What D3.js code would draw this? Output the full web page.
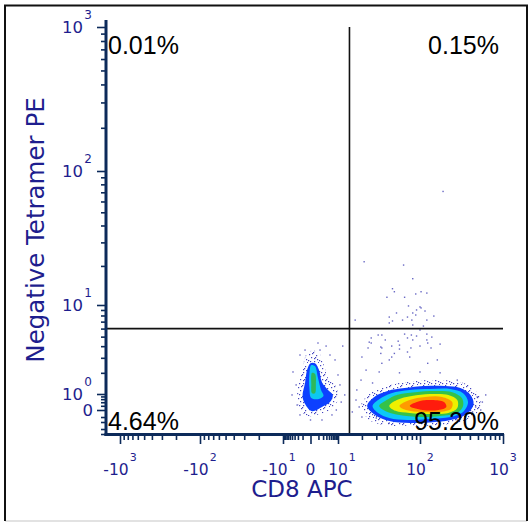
<!DOCTYPE html>
<html><head><meta charset="utf-8">
<script src="https://cdn.jsdelivr.net/npm/d3@7/dist/d3.min.js"></script>
<style>html,body{margin:0;padding:0;background:#fff;overflow:hidden}</style>
</head><body>
<svg id="c" width="530" height="523"></svg>
<script>
// ---------- data ----------
const xMajorTicks = [-1000, -100, -10, 0, 10, 100, 1000];
const xMajorLabels = [["-10","3"],["-10","2"],["-10","1"],["0",""],["10","1"],["10","2"],["10","3"]];
const yMajorTicks = [0, 1, 10, 100, 1000];
const yMajorLabels = [["0",""],["10","0"],["10","1"],["10","2"],["10","3"]];
const xTitle = "CD8 APC";
const yTitle = "Negative Tetramer PE";
const gateX = 14;
const gateY = 6;
const quadrantPercents = ["0.01%", "0.15%", "4.64%", "95.20%"]; // UL, UR, LL, LR

// density contour levels (outer -> inner), main CD8+ population
const mainContours = [
 [[23.2,0.19],[28.3,0.76],[41,1.12],[65.6,1.24],[115,1.33],[201,1.33],[307,1.24],[407,0.92],[443,0.3],[380,-0.19],[267,-0.68],[152,-1.0],[75.5,-1.12],[43,-0.89],[29,-0.33]],
 [[27,0.19],[32.5,0.6],[45.5,1.03],[75.5,1.16],[132,1.2],[232,1.2],[331,1.03],[380,0.41],[331,-0.12],[232,-0.5],[132,-0.68],[71,-0.78],[43,-0.59],[31.6,-0.19]],
 [[32.5,0.19],[40,0.54],[53,0.92],[87,1.07],[152,1.12],[245,1.07],[320,0.68],[331,0.19],[282,-0.19],[175,-0.41],[100,-0.5],[57,-0.33],[41,-0.12]],
 [[43,0.19],[53,0.54],[80,0.83],[132,0.99],[220,0.92],[282,0.54],[282,0.09],[220,-0.19],[132,-0.26],[75.5,-0.19],[51,-0.05]],
 [[57,0.19],[75.5,0.54],[115,0.76],[185,0.76],[245,0.41],[238,0.05],[175,-0.12],[106,-0.12],[68,0]],
 [[75.5,0.19],[100,0.48],[140,0.54],[195,0.41],[208,0.14],[167,0],[108,0]]
];
// CD8- population
const leftContours = [
 [[0,2.6],[0.48,2.6],[1.1,2.16],[1.72,1.5],[3.6,1.16],[6,0.92],[4.47,0.41],[1.72,0.14],[0.14,-0.07],[-0.61,0.3],[-1.0,0.83],[-0.61,1.47],[-0.35,2.16]],
 [[0.07,2.48],[0.48,2.4],[0.92,1.72],[1.5,1.16],[2.1,0.83],[0.92,0.6],[0.07,0.68],[-0.1,1.24],[-0.1,1.95]],
 [[0.14,2.0],[0.48,1.95],[0.6,1.38],[0.48,1.03],[0.14,1.03],[0.07,1.43]]
];
// sparse low-density halos around each population
const mainHalo = [[19.5,0.19],[24.6,0.99],[37.4,1.33],[65.6,1.5],[132,1.61],[267,1.55],[407,1.33],[520,0.83],[520,0],[354,-0.78],[175,-1.38],[75.5,-1.5],[37.4,-1.38],[24.6,-0.78]];
const leftHalo = [[-0.24,3.47],[0.92,3.47],[2.2,2.48],[3.6,1.72],[8,1.33],[10,0.68],[6,0.09],[1.29,-0.26],[-0.24,-0.41],[-1.7,0.09],[-2.2,0.99],[-1.5,1.72],[-0.8,2.69]];
// individual sparse events [CD8, Tetramer]
const sparseEvents = [
 [190,71],[21.3,21.5],[63.8,20.3],[82,16],[47,13.4],[49.5,12.7],[103,12.7],[121,12.4],[89,12.2],[40.3,11.5],[65.6,11.5],
 [73,9.8],[100,9.6],[103,9.4],[91,9],[115,8.8],[52.5,8.44],[82,8.44],[147,7.9],[43,7.73],[71,7.73],[89,8.08],[62,7.24],
 [47,7.1],[80,7.24],[121,7.24],[43,6.8],[16.5,7.24],[82,6.5],[110,6.35],[100,5.81],
 [26,4.85],[31.6,5.19],[35,5.19],[65.6,5.3],[79,5.19],[71,4.85],[91,5.07],[121,5.3],[26,4.31],[38.5,4.63],[55,4.5],
 [82,4.63],[121,4.63],[139,4.95],[175,4.2],[23.8,3.83],[34,3.92],[46,4.01],[57,3.73],[78,3.83],[100,4.01],[136,3.83],
 [34,3.35],[49.5,3.35],[71,3.47],[20,3.06],[46,3.06],[11.5,4.01],[24.6,4.4],[35,3.83],[57,4.1],[124,4.31],
 [35,2.6],[43,2.84],[75.5,3.06],[124,2.6],[162,2.84],[22.5,2.16],[32.5,2.05],[57,2.0],[100,2.05],[175,2.0],[282,1.61],
 [19.5,1.61],[27,1.47],[17.3,1.16],[16.9,0.54],[18.5,0.14],[20,-0.5],[15.2,-0.12],[490,0.76],[565,0.41],[469,0.14],
 [431,-0.12],[282,-0.78],[43,-1.12],[30,-0.59],[620,0.92],[540,0],
 [-3.6,2.05],[-2.5,1.38],[-4.0,0.92],[-2.2,0.24],[-1.5,-0.33],[7.5,2.84],[10,1.88],[10.6,1.38],[8.5,0],[5.5,-0.33],
 [4.47,3.22],[1.29,3.64],[-0.61,3.64],[1.72,-0.78],[0,-0.78],[-1.5,3.22],[12.2,0.92],[11,0.41],[2.9,4.01],[0.92,4.31]
];

// ---------- scales ----------
const tf = v => Math.sign(v) * Math.log10(1 + Math.abs(v));
const x = d3.scaleLinear().domain([-1000,-100,-10,0,10,100,1000].map(tf)).range([120,200,283,310.5,338,420,503]);
const y = d3.scaleLinear().domain([-3,0,1,10,100,1000].map(tf)).range([434,410,394,305,171,27]);
const X = v => x(tf(v)), Y = v => y(tf(v));

const svg = d3.select("#c");
const AXIS = "#0c2a5a", LAB = "#1e1e8e";

// frame
svg.append("line").attr("x1",5).attr("y1",521).attr("x2",527).attr("y2",521).attr("stroke","#d8d8d8").attr("stroke-width",1.5);
svg.append("path").attr("d","M5,521 V5.5 H527 V521").attr("fill","none").attr("stroke","#111").attr("stroke-width",2);

// defs: speckle pattern + soft blur
const defs = svg.append("defs");
const pat = defs.append("pattern").attr("id","speck").attr("patternUnits","userSpaceOnUse").attr("width",11).attr("height",11);
[[1,2],[5,0],[8,3],[3,5],[9,7],[0,8],[6,9],[4,1],[7,5],[2,9],[10,10],[6,6]].forEach(p=>{
  pat.append("rect").attr("x",p[0]).attr("y",p[1]).attr("width",1.2).attr("height",1.2).attr("fill","#2424b4");
});
defs.append("filter").attr("id","soft").attr("x","-10%").attr("y","-10%").attr("width","120%").attr("height","120%")
  .append("feGaussianBlur").attr("stdDeviation",0.7);

const line = d3.line().x(d=>X(d[0])).y(d=>Y(d[1])).curve(d3.curveCatmullRomClosed.alpha(0.5));

const dataG = svg.append("g");
[mainHalo, leftHalo].forEach(h => dataG.append("path").attr("d", line(h)).attr("fill","url(#speck)").attr("opacity",0.85));
dataG.selectAll("rect.ev").data(sparseEvents).join("rect").attr("class","ev")
  .attr("x",d=>X(d[0])-0.7).attr("y",d=>Y(d[1])-0.7).attr("width",1.4).attr("height",1.4)
  .attr("fill","#4040b4").attr("opacity",0.8);

const mainColors = ["#1040ff","#08c8f6","#36c24a","#eef000","#ff9a00","#ff1a0a"];
const leftColors = ["#1040ff","#10c8f0","#2fb85a"];
const bandG = dataG.append("g").attr("filter","url(#soft)");
mainContours.forEach((c,i)=> bandG.append("path").attr("d", line(c)).attr("fill", mainColors[i]));
leftContours.forEach((c,i)=> bandG.append("path").attr("d", line(c)).attr("fill", leftColors[i]));

// quadrant gates
svg.append("line").attr("x1",X(gateX)).attr("x2",X(gateX)).attr("y1",27).attr("y2",434).attr("stroke","#111").attr("stroke-width",1.6);
svg.append("line").attr("x1",106).attr("x2",503).attr("y1",Y(gateY)).attr("y2",Y(gateY)).attr("stroke","#111").attr("stroke-width",1.6);

// minor ticks
const xMinor = [];
[1,10,100].forEach(d=>{ for(let m=1;m<=9;m++){ const v=m*d; if(!xMajorTicks.includes(v)){ xMinor.push(v); xMinor.push(-v);} } });
const yMinor = [-3,-2,-1,-0.5,0.2,0.4,0.6,0.8];
[1,10,100].forEach(d=>{ for(let m=2;m<=9;m++) yMinor.push(m*d); });

function styleAxis(g){ g.select(".domain").remove(); g.selectAll("line").attr("stroke",AXIS).attr("stroke-width",1.6); }
svg.append("g").attr("transform","translate(0,434)").call(d3.axisBottom(x).tickValues(xMinor.map(tf)).tickSize(6).tickFormat("")).call(styleAxis);
svg.append("g").attr("transform","translate(0,434)").call(d3.axisBottom(x).tickValues(xMajorTicks.map(tf)).tickSize(10).tickFormat("")).call(styleAxis);
svg.append("g").attr("transform","translate(106,0)").call(d3.axisLeft(y).tickValues(yMinor.map(tf)).tickSize(5).tickFormat("")).call(styleAxis);
svg.append("g").attr("transform","translate(106,0)").call(d3.axisLeft(y).tickValues(yMajorTicks.map(tf)).tickSize(9).tickFormat("")).call(styleAxis);

// axis lines
svg.append("line").attr("x1",104.5).attr("x2",504).attr("y1",434.5).attr("y2",434.5).attr("stroke",AXIS).attr("stroke-width",3);
svg.append("line").attr("x1",106).attr("x2",106).attr("y1",20).attr("y2",436).attr("stroke",AXIS).attr("stroke-width",3);

// tick labels: base and exponent as separate texts
const FONT = "'DejaVu Sans', Verdana, sans-serif";
const xNudge = v => v === -10 ? -4 : (v === 10 ? 4 : 0);
const xl = svg.append("g").attr("font-family",FONT).attr("fill",LAB);
xMajorTicks.forEach((v,i)=>{
  const [base, sup] = xMajorLabels[i];
  const cx = X(v) + xNudge(v);
  const b = xl.append("text").attr("y",475).attr("font-size",15.5).text(base);
  const bw = b.node().getComputedTextLength();
  const sw = sup ? 8 : 0;
  const left = cx - (bw + sw) / 2;
  b.attr("x", left);
  if (sup) xl.append("text").attr("x", left + bw + 1).attr("y",461).attr("font-size",11).text(sup);
});
const yl = svg.append("g").attr("font-family",FONT).attr("fill",LAB);
yMajorTicks.forEach((v,i)=>{
  const [base, sup] = yMajorLabels[i];
  if (sup) {
    yl.append("text").attr("x",92).attr("y",Y(v)-8).attr("text-anchor","end").attr("font-size",12).text(sup);
    yl.append("text").attr("x",83).attr("y",Y(v)+6).attr("text-anchor","end").attr("font-size",16.5).text(base);
  } else {
    yl.append("text").attr("x",93).attr("y",Y(v)+6).attr("text-anchor","end").attr("font-size",16.5).text(base);
  }
});

// titles
svg.append("text").attr("x",302).attr("y",497).attr("text-anchor","middle").attr("font-family",FONT)
  .attr("font-size",23).attr("fill",LAB).text(xTitle);
svg.append("text").attr("transform","translate(44,230) rotate(-90)").attr("text-anchor","middle").attr("font-family",FONT)
  .attr("font-size",24.5).attr("fill",LAB).text(yTitle);

// quadrant percentages
const QF = "'Liberation Sans', Arial, sans-serif";
const qpos = [[108,54,"start"],[499,54,"end"],[108,430,"start"],[499,430,"end"]];
quadrantPercents.forEach((s,i)=>{
  svg.append("text").attr("x",qpos[i][0]).attr("y",qpos[i][1]).attr("text-anchor",qpos[i][2])
    .attr("font-family",QF).attr("font-size",25).attr("fill","#000").text(s);
});
</script>
</body></html>
